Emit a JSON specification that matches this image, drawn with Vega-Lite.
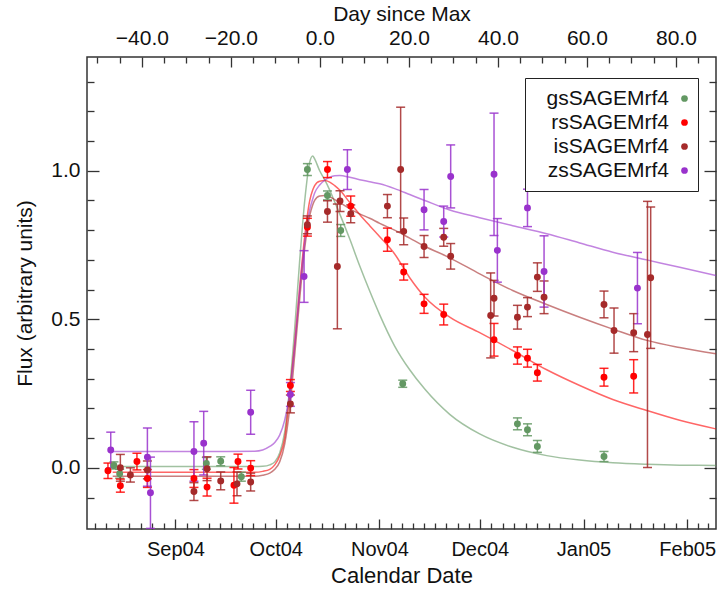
{
  "$schema": "https://vega.github.io/schema/vega-lite/v6.json",
  "width": 629,
  "height": 472,
  "autosize": "none",
  "padding": {"left": 87, "top": 57, "right": 6, "bottom": 62},
  "background": "white",
  "datasets": {
    "obs": [
      {"date": "2004-08-13T15:00", "band": "gsSAGEMrf4", "flux": 0.008, "err": 0.012},
      {"date": "2004-08-15T08:00", "band": "gsSAGEMrf4", "flux": -0.02, "err": 0.015},
      {"date": "2004-09-10T06:00", "band": "gsSAGEMrf4", "flux": 0.015, "err": 0.02},
      {"date": "2004-09-14T13:00", "band": "gsSAGEMrf4", "flux": 0.022, "err": 0.015},
      {"date": "2004-09-20T17:00", "band": "gsSAGEMrf4", "flux": -0.03, "err": 0.015},
      {"date": "2004-10-10T11:00", "band": "gsSAGEMrf4", "flux": 1.004, "err": 0.02},
      {"date": "2004-10-16T11:00", "band": "gsSAGEMrf4", "flux": 0.917, "err": 0.015},
      {"date": "2004-10-20T10:00", "band": "gsSAGEMrf4", "flux": 0.799, "err": 0.02},
      {"date": "2004-11-07T23:00", "band": "gsSAGEMrf4", "flux": 0.283, "err": 0.012},
      {"date": "2004-12-12T06:00", "band": "gsSAGEMrf4", "flux": 0.148, "err": 0.02},
      {"date": "2004-12-15T06:00", "band": "gsSAGEMrf4", "flux": 0.128, "err": 0.02},
      {"date": "2004-12-18T05:00", "band": "gsSAGEMrf4", "flux": 0.072, "err": 0.02},
      {"date": "2005-01-07T03:00", "band": "gsSAGEMrf4", "flux": 0.038, "err": 0.017},

      {"date": "2004-08-11T20:00", "band": "rsSAGEMrf4", "flux": -0.01, "err": 0.026},
      {"date": "2004-08-15T13:00", "band": "rsSAGEMrf4", "flux": -0.06, "err": 0.022},
      {"date": "2004-08-20T12:00", "band": "rsSAGEMrf4", "flux": 0.021, "err": 0.028},
      {"date": "2004-08-23T15:00", "band": "rsSAGEMrf4", "flux": -0.036, "err": 0.03},
      {"date": "2004-09-06T13:00", "band": "rsSAGEMrf4", "flux": -0.036, "err": 0.03},
      {"date": "2004-09-10T11:00", "band": "rsSAGEMrf4", "flux": -0.065, "err": 0.03},
      {"date": "2004-09-18T12:00", "band": "rsSAGEMrf4", "flux": -0.059, "err": 0.06},
      {"date": "2004-09-19T17:00", "band": "rsSAGEMrf4", "flux": 0.021, "err": 0.025},
      {"date": "2004-09-23T12:00", "band": "rsSAGEMrf4", "flux": -0.001, "err": 0.025},
      {"date": "2004-10-05T09:00", "band": "rsSAGEMrf4", "flux": 0.277, "err": 0.02},
      {"date": "2004-10-10T11:00", "band": "rsSAGEMrf4", "flux": 0.81, "err": 0.03},
      {"date": "2004-10-16T11:00", "band": "rsSAGEMrf4", "flux": 1.004, "err": 0.027},
      {"date": "2004-10-23T10:00", "band": "rsSAGEMrf4", "flux": 0.881, "err": 0.034},
      {"date": "2004-11-03T09:00", "band": "rsSAGEMrf4", "flux": 0.768, "err": 0.039},
      {"date": "2004-11-08T06:00", "band": "rsSAGEMrf4", "flux": 0.659, "err": 0.027},
      {"date": "2004-11-14T08:00", "band": "rsSAGEMrf4", "flux": 0.552, "err": 0.032},
      {"date": "2004-11-20T05:00", "band": "rsSAGEMrf4", "flux": 0.516, "err": 0.035},
      {"date": "2004-12-05T06:00", "band": "rsSAGEMrf4", "flux": 0.431, "err": 0.055},
      {"date": "2004-12-12T06:00", "band": "rsSAGEMrf4", "flux": 0.378, "err": 0.029},
      {"date": "2004-12-15T06:00", "band": "rsSAGEMrf4", "flux": 0.369, "err": 0.03},
      {"date": "2004-12-18T05:00", "band": "rsSAGEMrf4", "flux": 0.32, "err": 0.028},
      {"date": "2005-01-07T03:00", "band": "rsSAGEMrf4", "flux": 0.305, "err": 0.03},
      {"date": "2005-01-16T00:00", "band": "rsSAGEMrf4", "flux": 0.308, "err": 0.056},

      {"date": "2004-08-15T13:00", "band": "isSAGEMrf4", "flux": 0.0, "err": 0.045},
      {"date": "2004-08-18T13:00", "band": "isSAGEMrf4", "flux": -0.024, "err": 0.024},
      {"date": "2004-08-23T15:00", "band": "isSAGEMrf4", "flux": -0.007, "err": 0.03},
      {"date": "2004-09-06T13:00", "band": "isSAGEMrf4", "flux": -0.08, "err": 0.03},
      {"date": "2004-09-10T11:00", "band": "isSAGEMrf4", "flux": -0.003, "err": 0.04},
      {"date": "2004-09-14T13:00", "band": "isSAGEMrf4", "flux": -0.044, "err": 0.03},
      {"date": "2004-09-19T10:00", "band": "isSAGEMrf4", "flux": -0.054, "err": 0.04},
      {"date": "2004-09-23T12:00", "band": "isSAGEMrf4", "flux": -0.048, "err": 0.03},
      {"date": "2004-10-05T09:00", "band": "isSAGEMrf4", "flux": 0.215, "err": 0.03},
      {"date": "2004-10-10T11:00", "band": "isSAGEMrf4", "flux": 0.818, "err": 0.03},
      {"date": "2004-10-16T11:00", "band": "isSAGEMrf4", "flux": 0.863, "err": 0.036},
      {"date": "2004-10-19T10:00", "band": "isSAGEMrf4", "flux": 0.678, "err": 0.21},
      {"date": "2004-10-20T05:00", "band": "isSAGEMrf4", "flux": 0.898, "err": 0.035},
      {"date": "2004-10-23T10:00", "band": "isSAGEMrf4", "flux": 0.855, "err": 0.03},
      {"date": "2004-11-03T09:00", "band": "isSAGEMrf4", "flux": 0.881, "err": 0.039},
      {"date": "2004-11-07T08:00", "band": "isSAGEMrf4", "flux": 1.004, "err": 0.21},
      {"date": "2004-11-08T06:00", "band": "isSAGEMrf4", "flux": 0.796, "err": 0.045},
      {"date": "2004-11-14T08:00", "band": "isSAGEMrf4", "flux": 0.745, "err": 0.037},
      {"date": "2004-11-20T05:00", "band": "isSAGEMrf4", "flux": 0.776, "err": 0.03},
      {"date": "2004-11-22T07:00", "band": "isSAGEMrf4", "flux": 0.712, "err": 0.043},
      {"date": "2004-12-04T06:00", "band": "isSAGEMrf4", "flux": 0.513, "err": 0.143},
      {"date": "2004-12-05T06:00", "band": "isSAGEMrf4", "flux": 0.571, "err": 0.06},
      {"date": "2004-12-12T06:00", "band": "isSAGEMrf4", "flux": 0.507, "err": 0.04},
      {"date": "2004-12-15T06:00", "band": "isSAGEMrf4", "flux": 0.541, "err": 0.032},
      {"date": "2004-12-18T05:00", "band": "isSAGEMrf4", "flux": 0.642, "err": 0.048},
      {"date": "2004-12-20T05:00", "band": "isSAGEMrf4", "flux": 0.574, "err": 0.055},
      {"date": "2005-01-07T03:00", "band": "isSAGEMrf4", "flux": 0.55, "err": 0.045},
      {"date": "2005-01-10T03:00", "band": "isSAGEMrf4", "flux": 0.462, "err": 0.076},
      {"date": "2005-01-16T00:00", "band": "isSAGEMrf4", "flux": 0.455, "err": 0.064},
      {"date": "2005-01-20T03:00", "band": "isSAGEMrf4", "flux": 0.449, "err": 0.448},
      {"date": "2005-01-21T02:00", "band": "isSAGEMrf4", "flux": 0.64, "err": 0.238},

      {"date": "2004-08-12T16:00", "band": "zsSAGEMrf4", "flux": 0.06, "err": 0.06},
      {"date": "2004-08-23T15:00", "band": "zsSAGEMrf4", "flux": 0.036, "err": 0.098},
      {"date": "2004-08-24T13:00", "band": "zsSAGEMrf4", "flux": -0.084, "err": 0.12},
      {"date": "2004-09-06T13:00", "band": "zsSAGEMrf4", "flux": 0.055, "err": 0.1},
      {"date": "2004-09-09T11:00", "band": "zsSAGEMrf4", "flux": 0.083, "err": 0.107},
      {"date": "2004-09-23T12:00", "band": "zsSAGEMrf4", "flux": 0.187, "err": 0.074},
      {"date": "2004-10-05T09:00", "band": "zsSAGEMrf4", "flux": 0.247, "err": 0.04},
      {"date": "2004-10-09T11:00", "band": "zsSAGEMrf4", "flux": 0.644, "err": 0.087},
      {"date": "2004-10-22T10:00", "band": "zsSAGEMrf4", "flux": 1.004, "err": 0.067},
      {"date": "2004-11-14T08:00", "band": "zsSAGEMrf4", "flux": 0.869, "err": 0.068},
      {"date": "2004-11-20T05:00", "band": "zsSAGEMrf4", "flux": 0.829, "err": 0.052},
      {"date": "2004-11-22T07:00", "band": "zsSAGEMrf4", "flux": 0.981, "err": 0.106},
      {"date": "2004-12-05T06:00", "band": "zsSAGEMrf4", "flux": 0.988, "err": 0.206},
      {"date": "2004-12-06T06:00", "band": "zsSAGEMrf4", "flux": 0.732, "err": 0.107},
      {"date": "2004-12-15T06:00", "band": "zsSAGEMrf4", "flux": 0.875, "err": 0.063},
      {"date": "2004-12-20T05:00", "band": "zsSAGEMrf4", "flux": 0.661, "err": 0.12},
      {"date": "2005-01-17T03:00", "band": "zsSAGEMrf4", "flux": 0.605, "err": 0.12}
    ],
    "fit": [
      {"date": "2004-08-13T06:00", "band": "gsSAGEMrf4", "flux": 0.004},
      {"date": "2004-09-08T06:00", "band": "gsSAGEMrf4", "flux": 0.004},
      {"date": "2004-09-24T17:00", "band": "gsSAGEMrf4", "flux": 0.004},
      {"date": "2004-09-27T02:00", "band": "gsSAGEMrf4", "flux": 0.005},
      {"date": "2004-09-29T05:00", "band": "gsSAGEMrf4", "flux": 0.01},
      {"date": "2004-09-30T17:00", "band": "gsSAGEMrf4", "flux": 0.02},
      {"date": "2004-10-02T04:00", "band": "gsSAGEMrf4", "flux": 0.05},
      {"date": "2004-10-03T16:00", "band": "gsSAGEMrf4", "flux": 0.12},
      {"date": "2004-10-05T04:00", "band": "gsSAGEMrf4", "flux": 0.27},
      {"date": "2004-10-06T16:00", "band": "gsSAGEMrf4", "flux": 0.47},
      {"date": "2004-10-08T04:00", "band": "gsSAGEMrf4", "flux": 0.70},
      {"date": "2004-10-09T16:00", "band": "gsSAGEMrf4", "flux": 0.90},
      {"date": "2004-10-11T04:00", "band": "gsSAGEMrf4", "flux": 1.03},
      {"date": "2004-10-12T01:00", "band": "gsSAGEMrf4", "flux": 1.05},
      {"date": "2004-10-12T15:00", "band": "gsSAGEMrf4", "flux": 1.04},
      {"date": "2004-10-14T03:00", "band": "gsSAGEMrf4", "flux": 1.0},
      {"date": "2004-10-15T15:00", "band": "gsSAGEMrf4", "flux": 0.97},
      {"date": "2004-10-17T03:00", "band": "gsSAGEMrf4", "flux": 0.935},
      {"date": "2004-10-18T15:00", "band": "gsSAGEMrf4", "flux": 0.895},
      {"date": "2004-10-20T03:00", "band": "gsSAGEMrf4", "flux": 0.855},
      {"date": "2004-10-23T03:00", "band": "gsSAGEMrf4", "flux": 0.77},
      {"date": "2004-10-26T02:00", "band": "gsSAGEMrf4", "flux": 0.68},
      {"date": "2004-10-29T02:00", "band": "gsSAGEMrf4", "flux": 0.595},
      {"date": "2004-11-01T02:00", "band": "gsSAGEMrf4", "flux": 0.515},
      {"date": "2004-11-05T13:00", "band": "gsSAGEMrf4", "flux": 0.41},
      {"date": "2004-11-10T01:00", "band": "gsSAGEMrf4", "flux": 0.33},
      {"date": "2004-11-14T13:00", "band": "gsSAGEMrf4", "flux": 0.265},
      {"date": "2004-11-22T00:00", "band": "gsSAGEMrf4", "flux": 0.18},
      {"date": "2004-11-30T23:00", "band": "gsSAGEMrf4", "flux": 0.114},
      {"date": "2004-12-10T20:00", "band": "gsSAGEMrf4", "flux": 0.069},
      {"date": "2004-12-21T00:00", "band": "gsSAGEMrf4", "flux": 0.041},
      {"date": "2004-12-30T21:00", "band": "gsSAGEMrf4", "flux": 0.026},
      {"date": "2005-01-09T18:00", "band": "gsSAGEMrf4", "flux": 0.017},
      {"date": "2005-01-19T22:00", "band": "gsSAGEMrf4", "flux": 0.012},
      {"date": "2005-01-29T18:00", "band": "gsSAGEMrf4", "flux": 0.009},
      {"date": "2005-02-09T14:00", "band": "gsSAGEMrf4", "flux": 0.008},

      {"date": "2004-08-13T06:00", "band": "rsSAGEMrf4", "flux": -0.015},
      {"date": "2004-09-08T06:00", "band": "rsSAGEMrf4", "flux": -0.015},
      {"date": "2004-09-24T17:00", "band": "rsSAGEMrf4", "flux": -0.015},
      {"date": "2004-09-27T02:00", "band": "rsSAGEMrf4", "flux": -0.012},
      {"date": "2004-09-29T05:00", "band": "rsSAGEMrf4", "flux": -0.005},
      {"date": "2004-09-30T17:00", "band": "rsSAGEMrf4", "flux": 0.01},
      {"date": "2004-10-02T04:00", "band": "rsSAGEMrf4", "flux": 0.04},
      {"date": "2004-10-03T16:00", "band": "rsSAGEMrf4", "flux": 0.1},
      {"date": "2004-10-05T04:00", "band": "rsSAGEMrf4", "flux": 0.25},
      {"date": "2004-10-06T16:00", "band": "rsSAGEMrf4", "flux": 0.42},
      {"date": "2004-10-08T04:00", "band": "rsSAGEMrf4", "flux": 0.61},
      {"date": "2004-10-09T16:00", "band": "rsSAGEMrf4", "flux": 0.78},
      {"date": "2004-10-11T04:00", "band": "rsSAGEMrf4", "flux": 0.9},
      {"date": "2004-10-12T01:00", "band": "rsSAGEMrf4", "flux": 0.935},
      {"date": "2004-10-12T15:00", "band": "rsSAGEMrf4", "flux": 0.95},
      {"date": "2004-10-14T03:00", "band": "rsSAGEMrf4", "flux": 0.965},
      {"date": "2004-10-15T15:00", "band": "rsSAGEMrf4", "flux": 0.967},
      {"date": "2004-10-17T03:00", "band": "rsSAGEMrf4", "flux": 0.962},
      {"date": "2004-10-18T15:00", "band": "rsSAGEMrf4", "flux": 0.95},
      {"date": "2004-10-20T03:00", "band": "rsSAGEMrf4", "flux": 0.935},
      {"date": "2004-10-23T03:00", "band": "rsSAGEMrf4", "flux": 0.893},
      {"date": "2004-10-26T02:00", "band": "rsSAGEMrf4", "flux": 0.853},
      {"date": "2004-10-29T02:00", "band": "rsSAGEMrf4", "flux": 0.815},
      {"date": "2004-11-01T02:00", "band": "rsSAGEMrf4", "flux": 0.778},
      {"date": "2004-11-05T13:00", "band": "rsSAGEMrf4", "flux": 0.72},
      {"date": "2004-11-10T01:00", "band": "rsSAGEMrf4", "flux": 0.64},
      {"date": "2004-11-14T13:00", "band": "rsSAGEMrf4", "flux": 0.575},
      {"date": "2004-11-22T00:00", "band": "rsSAGEMrf4", "flux": 0.507},
      {"date": "2004-11-30T23:00", "band": "rsSAGEMrf4", "flux": 0.455},
      {"date": "2004-12-10T20:00", "band": "rsSAGEMrf4", "flux": 0.395},
      {"date": "2004-12-21T00:00", "band": "rsSAGEMrf4", "flux": 0.33},
      {"date": "2004-12-30T21:00", "band": "rsSAGEMrf4", "flux": 0.277},
      {"date": "2005-01-09T18:00", "band": "rsSAGEMrf4", "flux": 0.23},
      {"date": "2005-01-19T22:00", "band": "rsSAGEMrf4", "flux": 0.193},
      {"date": "2005-01-29T18:00", "band": "rsSAGEMrf4", "flux": 0.16},
      {"date": "2005-02-09T14:00", "band": "rsSAGEMrf4", "flux": 0.131},

      {"date": "2004-08-13T06:00", "band": "isSAGEMrf4", "flux": -0.028},
      {"date": "2004-09-08T06:00", "band": "isSAGEMrf4", "flux": -0.028},
      {"date": "2004-09-24T17:00", "band": "isSAGEMrf4", "flux": -0.028},
      {"date": "2004-09-27T02:00", "band": "isSAGEMrf4", "flux": -0.025},
      {"date": "2004-09-29T05:00", "band": "isSAGEMrf4", "flux": -0.018},
      {"date": "2004-09-30T17:00", "band": "isSAGEMrf4", "flux": -0.005},
      {"date": "2004-10-02T04:00", "band": "isSAGEMrf4", "flux": 0.02},
      {"date": "2004-10-03T16:00", "band": "isSAGEMrf4", "flux": 0.08},
      {"date": "2004-10-05T04:00", "band": "isSAGEMrf4", "flux": 0.2},
      {"date": "2004-10-06T16:00", "band": "isSAGEMrf4", "flux": 0.38},
      {"date": "2004-10-08T04:00", "band": "isSAGEMrf4", "flux": 0.57},
      {"date": "2004-10-09T16:00", "band": "isSAGEMrf4", "flux": 0.74},
      {"date": "2004-10-11T04:00", "band": "isSAGEMrf4", "flux": 0.85},
      {"date": "2004-10-12T01:00", "band": "isSAGEMrf4", "flux": 0.885},
      {"date": "2004-10-12T15:00", "band": "isSAGEMrf4", "flux": 0.9},
      {"date": "2004-10-14T03:00", "band": "isSAGEMrf4", "flux": 0.915},
      {"date": "2004-10-15T15:00", "band": "isSAGEMrf4", "flux": 0.917},
      {"date": "2004-10-17T03:00", "band": "isSAGEMrf4", "flux": 0.912},
      {"date": "2004-10-18T15:00", "band": "isSAGEMrf4", "flux": 0.903},
      {"date": "2004-10-20T03:00", "band": "isSAGEMrf4", "flux": 0.893},
      {"date": "2004-10-23T03:00", "band": "isSAGEMrf4", "flux": 0.872},
      {"date": "2004-10-26T02:00", "band": "isSAGEMrf4", "flux": 0.855},
      {"date": "2004-10-29T02:00", "band": "isSAGEMrf4", "flux": 0.84},
      {"date": "2004-11-01T02:00", "band": "isSAGEMrf4", "flux": 0.823},
      {"date": "2004-11-05T13:00", "band": "isSAGEMrf4", "flux": 0.8},
      {"date": "2004-11-10T01:00", "band": "isSAGEMrf4", "flux": 0.773},
      {"date": "2004-11-14T13:00", "band": "isSAGEMrf4", "flux": 0.746},
      {"date": "2004-11-22T00:00", "band": "isSAGEMrf4", "flux": 0.707},
      {"date": "2004-11-30T23:00", "band": "isSAGEMrf4", "flux": 0.653},
      {"date": "2004-12-10T20:00", "band": "isSAGEMrf4", "flux": 0.597},
      {"date": "2004-12-21T00:00", "band": "isSAGEMrf4", "flux": 0.55},
      {"date": "2004-12-30T21:00", "band": "isSAGEMrf4", "flux": 0.507},
      {"date": "2005-01-09T18:00", "band": "isSAGEMrf4", "flux": 0.467},
      {"date": "2005-01-19T22:00", "band": "isSAGEMrf4", "flux": 0.429},
      {"date": "2005-01-29T18:00", "band": "isSAGEMrf4", "flux": 0.405},
      {"date": "2005-02-09T14:00", "band": "isSAGEMrf4", "flux": 0.384},

      {"date": "2004-08-13T06:00", "band": "zsSAGEMrf4", "flux": 0.055},
      {"date": "2004-09-08T06:00", "band": "zsSAGEMrf4", "flux": 0.055},
      {"date": "2004-09-24T17:00", "band": "zsSAGEMrf4", "flux": 0.056},
      {"date": "2004-09-27T02:00", "band": "zsSAGEMrf4", "flux": 0.06},
      {"date": "2004-09-29T05:00", "band": "zsSAGEMrf4", "flux": 0.072},
      {"date": "2004-09-30T17:00", "band": "zsSAGEMrf4", "flux": 0.085},
      {"date": "2004-10-02T04:00", "band": "zsSAGEMrf4", "flux": 0.11},
      {"date": "2004-10-03T16:00", "band": "zsSAGEMrf4", "flux": 0.16},
      {"date": "2004-10-05T04:00", "band": "zsSAGEMrf4", "flux": 0.25},
      {"date": "2004-10-06T16:00", "band": "zsSAGEMrf4", "flux": 0.41},
      {"date": "2004-10-08T04:00", "band": "zsSAGEMrf4", "flux": 0.6},
      {"date": "2004-10-09T16:00", "band": "zsSAGEMrf4", "flux": 0.76},
      {"date": "2004-10-11T04:00", "band": "zsSAGEMrf4", "flux": 0.87},
      {"date": "2004-10-12T01:00", "band": "zsSAGEMrf4", "flux": 0.905},
      {"date": "2004-10-12T15:00", "band": "zsSAGEMrf4", "flux": 0.925},
      {"date": "2004-10-14T03:00", "band": "zsSAGEMrf4", "flux": 0.952},
      {"date": "2004-10-15T15:00", "band": "zsSAGEMrf4", "flux": 0.968},
      {"date": "2004-10-17T03:00", "band": "zsSAGEMrf4", "flux": 0.978},
      {"date": "2004-10-18T15:00", "band": "zsSAGEMrf4", "flux": 0.983},
      {"date": "2004-10-20T03:00", "band": "zsSAGEMrf4", "flux": 0.984},
      {"date": "2004-10-23T03:00", "band": "zsSAGEMrf4", "flux": 0.978},
      {"date": "2004-10-26T02:00", "band": "zsSAGEMrf4", "flux": 0.97},
      {"date": "2004-10-29T02:00", "band": "zsSAGEMrf4", "flux": 0.963},
      {"date": "2004-11-01T02:00", "band": "zsSAGEMrf4", "flux": 0.956},
      {"date": "2004-11-05T13:00", "band": "zsSAGEMrf4", "flux": 0.94},
      {"date": "2004-11-10T01:00", "band": "zsSAGEMrf4", "flux": 0.92},
      {"date": "2004-11-14T13:00", "band": "zsSAGEMrf4", "flux": 0.9},
      {"date": "2004-11-22T00:00", "band": "zsSAGEMrf4", "flux": 0.868},
      {"date": "2004-11-30T23:00", "band": "zsSAGEMrf4", "flux": 0.842},
      {"date": "2004-12-10T20:00", "band": "zsSAGEMrf4", "flux": 0.815},
      {"date": "2004-12-21T00:00", "band": "zsSAGEMrf4", "flux": 0.788},
      {"date": "2004-12-30T21:00", "band": "zsSAGEMrf4", "flux": 0.757},
      {"date": "2005-01-09T18:00", "band": "zsSAGEMrf4", "flux": 0.726},
      {"date": "2005-01-19T22:00", "band": "zsSAGEMrf4", "flux": 0.7},
      {"date": "2005-01-29T18:00", "band": "zsSAGEMrf4", "flux": 0.675},
      {"date": "2005-02-09T14:00", "band": "zsSAGEMrf4", "flux": 0.647}
    ]
  },
  "config": {
    "view": {"stroke": "#333", "strokeWidth": 1.5},
    "font": "Liberation Sans",
    "axis": {
      "grid": false, "domain": false,
      "labelFont": "Liberation Sans", "titleFont": "Liberation Sans",
      "labelColor": "#111", "titleColor": "#111",
      "tickColor": "#333", "tickWidth": 1.3,
      "titleFontWeight": "normal",
      "labelFlush": false, "labelOverlap": false, "labelBound": false
    }
  },
  "layer": [
    {
      "resolve": {"axis": {"x": "independent", "y": "independent"}, "legend": {"color": "independent"}},
      "layer": [
        {
          "data": {"name": "fit"},
          "mark": {"type": "line", "strokeWidth": 1.5, "opacity": 0.6, "interpolate": "monotone", "clip": true},
          "encoding": {
            "x": {"field": "date", "type": "temporal", "scale": {"domain": [{"year": 2004, "month": 8, "date": 5, "hours": 13, "minutes": 40}, {"year": 2005, "month": 2, "date": 9, "hours": 14, "minutes": 38}], "nice": false}, "axis": null},
            "y": {"field": "flux", "type": "quantitative", "scale": {"domain": [-0.206, 1.383], "nice": false, "zero": false},
                  "axis": {"orient": "right", "values": [0, 0.5, 1], "tickSize": -12, "labels": false, "title": null}},
            "color": {"field": "band", "type": "nominal", "scale": {"domain": ["gsSAGEMrf4", "rsSAGEMrf4", "isSAGEMrf4", "zsSAGEMrf4"], "range": ["#639863", "#ff0000", "#a52a2a", "#9932cc"]}, "legend": null}
          }
        },
        {
          "data": {"name": "obs"},
          "mark": {"type": "errorbar", "ticks": {"size": 9}, "thickness": 1.5, "opacity": 0.85, "clip": true},
          "encoding": {
            "x": {"field": "date", "type": "temporal", "scale": {"domain": [{"year": 2004, "month": 8, "date": 5, "hours": 13, "minutes": 40}, {"year": 2005, "month": 2, "date": 9, "hours": 14, "minutes": 38}], "nice": false},
                  "axis": {"orient": "bottom", "tickSize": -6, "labels": false, "title": null,
                    "values": [
                      {"year": 2004, "month": 8, "date": 7, "hours": 21, "minutes": 20},
                      {"year": 2004, "month": 8, "date": 11, "hours": 8},
                      {"year": 2004, "month": 8, "date": 14, "hours": 18, "minutes": 40},
                      {"year": 2004, "month": 8, "date": 18, "hours": 5, "minutes": 20},
                      {"year": 2004, "month": 8, "date": 21, "hours": 16},
                      {"year": 2004, "month": 8, "date": 25, "hours": 2, "minutes": 40},
                      {"year": 2004, "month": 8, "date": 28, "hours": 13, "minutes": 20},
                      {"year": 2004, "month": 9, "date": 4, "hours": 8},
                      {"year": 2004, "month": 9, "date": 7, "hours": 16},
                      {"year": 2004, "month": 9, "date": 11},
                      {"year": 2004, "month": 9, "date": 14, "hours": 8},
                      {"year": 2004, "month": 9, "date": 17, "hours": 16},
                      {"year": 2004, "month": 9, "date": 21},
                      {"year": 2004, "month": 9, "date": 24, "hours": 8},
                      {"year": 2004, "month": 9, "date": 27, "hours": 16},
                      {"year": 2004, "month": 10, "date": 4, "hours": 10, "minutes": 40},
                      {"year": 2004, "month": 10, "date": 7, "hours": 21, "minutes": 20},
                      {"year": 2004, "month": 10, "date": 11, "hours": 8},
                      {"year": 2004, "month": 10, "date": 14, "hours": 18, "minutes": 40},
                      {"year": 2004, "month": 10, "date": 18, "hours": 5, "minutes": 20},
                      {"year": 2004, "month": 10, "date": 21, "hours": 16},
                      {"year": 2004, "month": 10, "date": 25, "hours": 2, "minutes": 40},
                      {"year": 2004, "month": 10, "date": 28, "hours": 13, "minutes": 20},
                      {"year": 2004, "month": 11, "date": 4, "hours": 8},
                      {"year": 2004, "month": 11, "date": 7, "hours": 16},
                      {"year": 2004, "month": 11, "date": 11},
                      {"year": 2004, "month": 11, "date": 14, "hours": 8},
                      {"year": 2004, "month": 11, "date": 17, "hours": 16},
                      {"year": 2004, "month": 11, "date": 21},
                      {"year": 2004, "month": 11, "date": 24, "hours": 8},
                      {"year": 2004, "month": 11, "date": 27, "hours": 16},
                      {"year": 2004, "month": 12, "date": 4, "hours": 10, "minutes": 40},
                      {"year": 2004, "month": 12, "date": 7, "hours": 21, "minutes": 20},
                      {"year": 2004, "month": 12, "date": 11, "hours": 8},
                      {"year": 2004, "month": 12, "date": 14, "hours": 18, "minutes": 40},
                      {"year": 2004, "month": 12, "date": 18, "hours": 5, "minutes": 20},
                      {"year": 2004, "month": 12, "date": 21, "hours": 16},
                      {"year": 2004, "month": 12, "date": 25, "hours": 2, "minutes": 40},
                      {"year": 2004, "month": 12, "date": 28, "hours": 13, "minutes": 20},
                      {"year": 2005, "month": 1, "date": 4, "hours": 10, "minutes": 40},
                      {"year": 2005, "month": 1, "date": 7, "hours": 21, "minutes": 20},
                      {"year": 2005, "month": 1, "date": 11, "hours": 8},
                      {"year": 2005, "month": 1, "date": 14, "hours": 18, "minutes": 40},
                      {"year": 2005, "month": 1, "date": 18, "hours": 5, "minutes": 20},
                      {"year": 2005, "month": 1, "date": 21, "hours": 16},
                      {"year": 2005, "month": 1, "date": 25, "hours": 2, "minutes": 40},
                      {"year": 2005, "month": 1, "date": 28, "hours": 13, "minutes": 20},
                      {"year": 2005, "month": 2, "date": 4, "hours": 2, "minutes": 40},
                      {"year": 2005, "month": 2, "date": 7, "hours": 5, "minutes": 20}
                    ]}},
            "y": {"field": "flux", "type": "quantitative", "scale": {"domain": [-0.206, 1.383], "nice": false, "zero": false},
                  "axis": {"orient": "left", "values": [-0.1, 0.1, 0.2, 0.3, 0.4, 0.6, 0.7, 0.8, 0.9, 1.1, 1.2, 1.3], "tickSize": -7, "labels": false, "title": null}},
            "yError": {"field": "err"},
            "color": {"field": "band", "type": "nominal", "scale": {"domain": ["gsSAGEMrf4", "rsSAGEMrf4", "isSAGEMrf4", "zsSAGEMrf4"], "range": ["#639863", "#ff0000", "#a52a2a", "#9932cc"]}, "legend": null}
          }
        },
        {
          "data": {"name": "obs"},
          "mark": {"type": "circle", "size": 48, "opacity": 1, "clip": true},
          "encoding": {
            "x": {"field": "date", "type": "temporal", "scale": {"domain": [{"year": 2004, "month": 8, "date": 5, "hours": 13, "minutes": 40}, {"year": 2005, "month": 2, "date": 9, "hours": 14, "minutes": 38}], "nice": false},
                  "axis": {"orient": "bottom", "format": "%b%y", "tickSize": -10, "labelPadding": 20, "labelFontSize": 20,
                           "title": "Calendar Date", "titleFontSize": 22, "titleY": 46, "titleBaseline": "middle",
                           "values": [{"year": 2004, "month": 9, "date": 1}, {"year": 2004, "month": 10, "date": 1}, {"year": 2004, "month": 11, "date": 1}, {"year": 2004, "month": 12, "date": 1}, {"year": 2005, "month": 1, "date": 1}, {"year": 2005, "month": 2, "date": 1}]}},
            "y": {"field": "flux", "type": "quantitative", "scale": {"domain": [-0.206, 1.383], "nice": false, "zero": false},
                  "axis": {"orient": "left", "values": [0, 0.5, 1], "format": ".1f", "tickSize": -12, "labelPadding": 19, "labelFontSize": 21,
                           "title": "Flux (arbitrary units)", "titleFontSize": 21, "titleX": -62, "titleBaseline": "middle"}},
            "color": {"field": "band", "type": "nominal", "scale": {"domain": ["gsSAGEMrf4", "rsSAGEMrf4", "isSAGEMrf4", "zsSAGEMrf4"], "range": ["#639863", "#ff0000", "#a52a2a", "#9932cc"]},
                      "legend": {"orient": "none", "legendX": 438, "legendY": 21, "title": null, "padding": 10,
                                 "strokeColor": "#222", "fillColor": "white", "symbolType": "circle", "symbolSize": 45,
                                 "labelFontSize": 21, "labelFont": "Liberation Sans", "labelColor": "#111", "labelAlign": "right",
                                 "labelOffset": -26, "symbolOffset": 139, "rowPadding": 2, "labelLimit": 300}}
          }
        },
        {
          "mark": {"type": "rule", "color": "#111", "strokeWidth": 2},
          "encoding": {
            "x": {"datum": {"year": 2004, "month": 8, "date": 16, "hours": 8}, "type": "temporal", "scale": {"domain": [{"year": 2004, "month": 8, "date": 5, "hours": 13, "minutes": 40}, {"year": 2005, "month": 2, "date": 9, "hours": 14, "minutes": 38}], "nice": false}, "axis": null},
            "x2": {"datum": {"year": 2004, "month": 9, "date": 21, "hours": 17}},
            "y": {"datum": -0.073, "type": "quantitative", "scale": {"domain": [-0.206, 1.383], "nice": false, "zero": false},
                  "axis": {"orient": "right", "values": [-0.1, 0.1, 0.2, 0.3, 0.4, 0.6, 0.7, 0.8, 0.9, 1.1, 1.2, 1.3], "tickSize": -7, "labels": false, "title": null}}
          }
        },
        {
          "mark": {"type": "text", "align": "left", "baseline": "middle", "fontSize": 21, "font": "Liberation Sans", "color": "#111"},
          "encoding": {
            "x": {"datum": {"year": 2004, "month": 9, "date": 26, "hours": 5}, "type": "temporal", "scale": {"domain": [{"year": 2004, "month": 8, "date": 5, "hours": 13, "minutes": 40}, {"year": 2005, "month": 2, "date": 9, "hours": 14, "minutes": 38}], "nice": false}, "axis": null},
            "y": {"datum": -0.069, "type": "quantitative", "scale": {"domain": [-0.206, 1.383], "nice": false, "zero": false}, "axis": null},
            "text": {"value": "bazin"}
          }
        },
        {
          "mark": {"type": "text", "align": "left", "baseline": "middle", "fontSize": 20, "font": "Liberation Sans", "color": "#111"},
          "encoding": {
            "x": {"datum": {"year": 2004, "month": 8, "date": 11, "hours": 19}, "type": "temporal", "scale": {"domain": [{"year": 2004, "month": 8, "date": 5, "hours": 13, "minutes": 40}, {"year": 2005, "month": 2, "date": 9, "hours": 14, "minutes": 38}], "nice": false}, "axis": null},
            "y": {"datum": 1.305, "type": "quantitative", "scale": {"domain": [-0.206, 1.383], "nice": false, "zero": false}, "axis": null},
            "text": {"value": "SNII-P: 04D1me"}
          }
        },
        {
          "mark": {"type": "text", "align": "left", "baseline": "middle", "fontSize": 20, "font": "Liberation Sans", "color": "#111"},
          "encoding": {
            "x": {"datum": {"year": 2004, "month": 8, "date": 11, "hours": 19}, "type": "temporal", "scale": {"domain": [{"year": 2004, "month": 8, "date": 5, "hours": 13, "minutes": 40}, {"year": 2005, "month": 2, "date": 9, "hours": 14, "minutes": 38}], "nice": false}, "axis": null},
            "y": {"datum": 1.224, "type": "quantitative", "scale": {"domain": [-0.206, 1.383], "nice": false, "zero": false}, "axis": null},
            "text": {"value": "z=0.29+/-0.01"}
          }
        }
      ]
    },
    {
      "mark": {"type": "rule", "opacity": 0},
      "encoding": {
        "x": {"datum": 0, "type": "quantitative", "scale": {"domain": [-52.34, 89.01], "nice": false, "zero": false},
              "axis": {"orient": "top", "values": [-40, -20, 0, 20, 40, 60, 80], "format": ".1f", "tickSize": -10, "labelPadding": 19, "labelFontSize": 21,
                       "title": "Day since Max", "titleFontSize": 21, "titleY": -43, "titleBaseline": "middle"}}
      }
    },
    {
      "mark": {"type": "rule", "opacity": 0},
      "encoding": {
        "x": {"datum": 0, "type": "quantitative", "scale": {"domain": [-52.34, 89.01], "nice": false, "zero": false},
              "axis": {"orient": "top", "values": [-50, -45, -35, -30, -25, -15, -10, -5, 5, 10, 15, 25, 30, 35, 45, 50, 55, 65, 70, 75, 85], "tickSize": -6, "labels": false, "title": null}}
      }
    }
  ],
  "resolve": {"scale": {"x": "independent"}, "axis": {"x": "independent"}}
}
